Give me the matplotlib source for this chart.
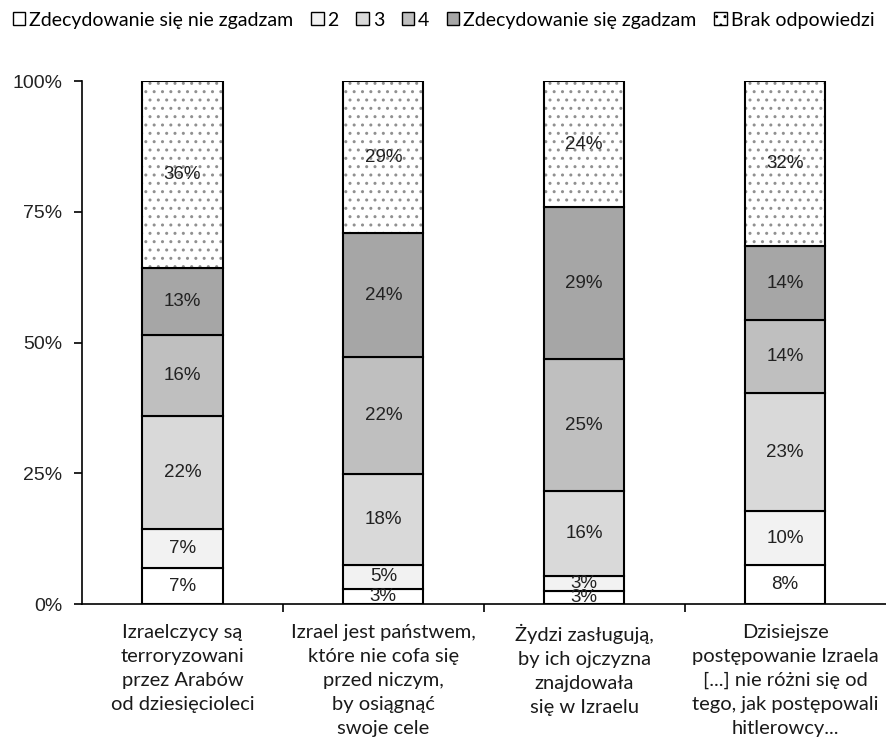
import numpy as np
import matplotlib
matplotlib.use("Agg")
from matplotlib import pyplot as plt
from matplotlib.patches import Patch

categories = [
    "Izraelczycy są\nterroryzowani\nprzez Arabów\nod dziesięcioleci",
    "Izrael jest państwem,\nktóre nie cofa się\nprzed niczym,\nby osiągnąć\nswoje cele",
    "Żydzi zasługują,\nby ich ojczyzna\nznajdowała\nsię w Izraelu",
    "Dzisiejsze\npostępowanie Izraela\n[...] nie różni się od\ntego, jak postępowali\nhitlerowcy...",
]
series_names = ["Zdecydowanie się nie zgadzam", "2", "3", "4",
                "Zdecydowanie się zgadzam", "Brak odpowiedzi"]
# procenty, od dołu słupka
values = np.array([
    [6.9, 2.9, 2.5, 7.5],
    [7.4, 4.6, 2.9, 10.3],
    [21.6, 17.4, 16.2, 22.5],
    [15.5, 22.3, 25.2, 14.0],
    [12.8, 23.7, 29.1, 14.2],
    [35.8, 29.1, 24.1, 31.5],
])
labels = [
    ["7%", "3%", "3%", "8%"],
    ["7%", "5%", "3%", "10%"],
    ["22%", "18%", "16%", "23%"],
    ["16%", "22%", "25%", "14%"],
    ["13%", "24%", "29%", "14%"],
    ["36%", "29%", "24%", "32%"],
]
colors = ["#ffffff", "#f2f2f2", "#d9d9d9", "#bfbfbf", "#a6a6a6", "#ffffff"]

num_font = "Liberation Sans"
txt_font = "Lato"

fig = plt.figure(figsize=(8.87, 7.45), dpi=100)
ax = fig.add_axes([0.0924, 0.189, 0.906, 0.702])

x = np.arange(len(categories))
width = 0.4
bottom = np.zeros(len(categories))
for i, name in enumerate(series_names):
    if i == 5:
        # kropki w szarym kolorze, obrys czarny osobno
        ax.bar(x, values[i], width, bottom=bottom, color="white",
               edgecolor="#909090", hatch="..", linewidth=0)
        ax.bar(x, values[i], width, bottom=bottom, fill=False,
               edgecolor="black", linewidth=1.5)
    else:
        ax.bar(x, values[i], width, bottom=bottom, color=colors[i],
               edgecolor="black", linewidth=1.5)
    for j in range(len(categories)):
        ax.text(x[j], bottom[j] + values[i][j] / 2, labels[i][j],
                ha="center", va="center", fontsize=13.5, family=num_font,
                color="#222222")
    bottom += values[i]

ax.set_xlim(-0.5, 3.5)
ax.set_ylim(0, 100)
ax.set_yticks([0, 25, 50, 75, 100])
ax.set_yticklabels(["0%", "25%", "50%", "75%", "100%"], fontsize=14,
                   family=num_font, color="#222222")
ax.set_xticks(x)
ax.set_xticklabels(categories, fontsize=14.5, family=txt_font, linespacing=1.5,
                   color="#1a1a1a")
ax.tick_params(axis="x", length=0, pad=14)
ax.set_xticks([0.5, 1.5, 2.5], minor=True)
ax.tick_params(axis="x", which="minor", length=6, width=1.2)
ax.tick_params(axis="y", length=6, width=1.2, pad=8)
for s in ["top", "right"]:
    ax.spines[s].set_visible(False)
ax.spines["left"].set_linewidth(1.2)
ax.spines["bottom"].set_linewidth(1.2)

handles = []
for i, name in enumerate(series_names):
    if i == 5:
        handles.append(Patch(facecolor="white", edgecolor="black", hatch="..", label=name))
    else:
        handles.append(Patch(facecolor=colors[i], edgecolor="black", label=name))
fig.legend(handles=handles, loc="upper center", bbox_to_anchor=(0.5, 1.008), ncol=6,
           frameon=False, handlelength=0.65, handleheight=0.65, handletextpad=0.2,
           columnspacing=0.9, prop={"family": txt_font, "size": 14})

plt.savefig("out.png")
plt.close()
